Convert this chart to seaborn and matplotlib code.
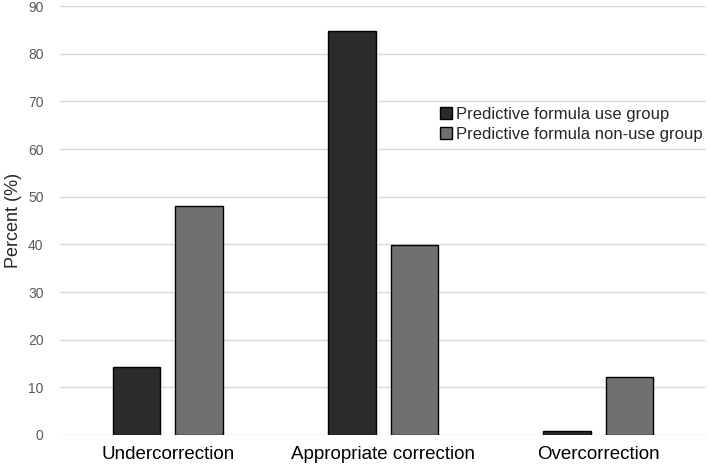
import pandas as pd
import matplotlib
matplotlib.use("Agg")
import matplotlib.pyplot as plt
import seaborn as sns

# data
categories = ["Undercorrection", "Appropriate correction", "Overcorrection"]
use_group = [14.2, 84.7, 0.9]
nonuse_group = [48.0, 39.8, 12.2]
groups = ["Predictive formula use group", "Predictive formula non-use group"]

df = pd.DataFrame({
    "category": categories * 2,
    "group": [groups[0]] * 3 + [groups[1]] * 3,
    "value": use_group + nonuse_group,
})

sns.set_style("white")
plt.rcParams["font.family"] = ["Liberation Sans", "DejaVu Sans"]

fig = plt.figure(figsize=(7.08, 4.69), dpi=100)
ax = fig.add_axes([0.085, 0.0725, 0.912, 0.9145])

sns.barplot(data=df, x="category", y="value", hue="group",
            palette=["#2b2b2b", "#707070"], width=0.58, gap=0.24,
            edgecolor="black", linewidth=1.0, ax=ax, zorder=3)

ax.set_ylim(0, 90)
ax.set_xlim(-0.5, 2.5)
ax.set_yticks(range(0, 91, 10))
ax.yaxis.grid(True, color="#d9d9d9", linewidth=1.0, zorder=0)
ax.set_axisbelow(True)
for s in ax.spines.values():
    s.set_visible(False)
ax.tick_params(axis="y", length=0, labelsize=10, labelcolor="#595959", pad=12)
ax.tick_params(axis="x", length=0, labelsize=13.5, labelcolor="black", pad=8)
ax.set_xlabel("")
ax.set_ylabel("Percent (%)", fontsize=13, labelpad=4)

leg = ax.legend(loc="upper left", bbox_to_anchor=(0.588, 0.765), frameon=False,
                fontsize=12, handlelength=0.7, handleheight=0.7,
                handletextpad=0.25, labelspacing=0.3, borderaxespad=0,
                borderpad=0)

fig.savefig("out.png", dpi=100)
